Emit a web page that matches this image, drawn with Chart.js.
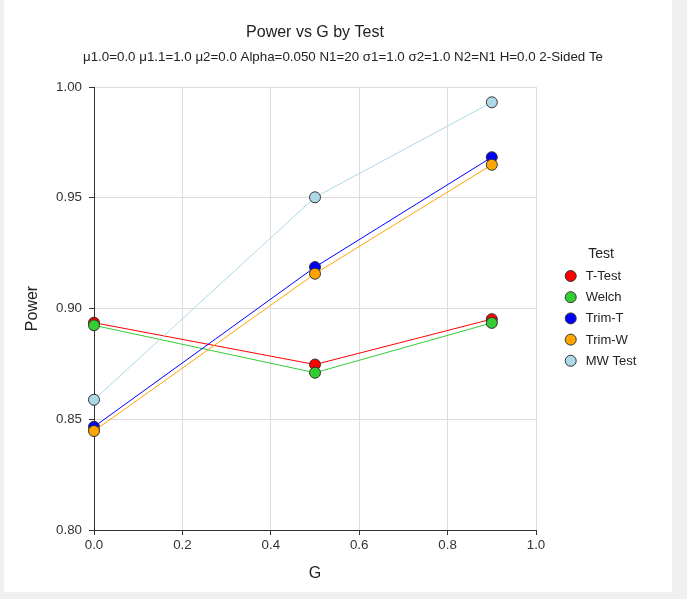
<!DOCTYPE html>
<html>
<head>
<meta charset="utf-8">
<script src="https://cdn.jsdelivr.net/npm/chart.js@4.4.1/dist/chart.umd.min.js"></script>
<style>
  body { margin: 0; background: #f0f0f0; }
  #wrap { position: absolute; left: 4px; top: 0; width: 668px; height: 592px; background: #fff; }
</style>
</head>
<body>
<div id="wrap"><canvas id="powerChart" width="668" height="592"></canvas></div>
<script>
const gValues = [0.0, 0.5, 0.9];
const testNames = ["T-Test", "Welch", "Trim-T", "Trim-W", "MW Test"];
const tTestPower = [0.8936, 0.8747, 0.8952];
const welchPower = [0.8924, 0.8710, 0.8935];
const trimTPower = [0.8466, 0.9187, 0.9683];
const trimWPower = [0.8447, 0.9157, 0.9649];
const mwPower = [0.8588, 0.9502, 0.9931];
const testColors = ["#ff0000", "#33cc33", "#0000ff", "#ffa500", "#add8e6"];

const chartTitle = "Power vs G by Test";
const chartSubtitle = "μ1.0=0.0 μ1.1=1.0 μ2=0.0 Alpha=0.050 N1=20 σ1=1.0 σ2=1.0 N2=N1 H=0.0 2-Sided Te";
const FONT = "'Liberation Sans', Arial, sans-serif";

const seriesList = [tTestPower, welchPower, trimTPower, trimWPower, mwPower];

function makeDataset(values, i) {
  return {
    label: testNames[i],
    data: values.map((v, k) => ({ x: gValues[k], y: v })),
    borderColor: testColors[i],
    backgroundColor: testColors[i],
    pointBackgroundColor: testColors[i],
    pointBorderColor: "#333",
    pointBorderWidth: 1,
    pointRadius: 5.5,
    borderWidth: 1,
    tension: 0,
    clip: false,
    order: seriesList.length - i,
  };
}

// title + subtitle at fixed spots above the plot
const headerPlugin = {
  id: "header",
  afterDraw(chart) {
    const ctx = chart.ctx;
    const area = chart.chartArea;
    ctx.save();
    ctx.fillStyle = "#222";
    ctx.textAlign = "center";
    ctx.textBaseline = "middle";
    ctx.font = "16px " + FONT;
    ctx.fillText(chartTitle, (area.left + area.right) / 2, 33);
    ctx.font = "13.33px " + FONT;
    ctx.fillText(chartSubtitle, 339, 57);
    ctx.restore();
  },
};

// legend block on the right, built from the datasets
const sideLegend = {
  id: "sideLegend",
  afterDraw(chart) {
    const ctx = chart.ctx;
    ctx.save();
    ctx.fillStyle = "#222";
    ctx.textBaseline = "middle";
    ctx.textAlign = "center";
    ctx.font = "14px " + FONT;
    ctx.fillText("Test", 597, 254);
    ctx.textAlign = "left";
    ctx.font = "13px " + FONT;
    chart.data.datasets.forEach((ds, i) => {
      const y = 276 + i * 21.2;
      ctx.beginPath();
      ctx.arc(566.7, y, 5.5, 0, Math.PI * 2);
      ctx.fillStyle = ds.backgroundColor;
      ctx.fill();
      ctx.lineWidth = 1;
      ctx.strokeStyle = "#333";
      ctx.stroke();
      ctx.fillStyle = "#222";
      ctx.fillText(ds.label, 581.7, y + 0.5);
    });
    ctx.restore();
  },
};

new Chart(document.getElementById("powerChart"), {
  type: "line",
  data: { datasets: seriesList.map(makeDataset) },
  options: {
    responsive: false,
    animation: false,
    layout: { padding: { top: 87, right: 136, bottom: 0, left: 0 } },
    plugins: {
      legend: { display: false },
      title: { display: false },
      tooltip: { enabled: false },
    },
    scales: {
      x: {
        type: "linear",
        min: 0,
        max: 1,
        afterFit: (s) => { s.height = 62; },
        ticks: {
          stepSize: 0.2,
          padding: 2,
          color: "#333",
          font: { family: FONT, size: 13.33 },
          callback: (v) => v.toFixed(1),
        },
        grid: { color: "#dcdcdc", tickColor: "#333", tickLength: 5 },
        border: { color: "#333", width: 1 },
        title: {
          display: true,
          text: "G",
          color: "#222",
          font: { family: FONT, size: 16 },
          padding: { top: 0, bottom: 9 },
        },
      },
      y: {
        min: 0.8,
        max: 1.0,
        afterFit: (s) => { s.width = 90; },
        ticks: {
          stepSize: 0.05,
          padding: 7,
          color: "#333",
          font: { family: FONT, size: 13.33 },
          callback: (v) => v.toFixed(2),
        },
        grid: { color: "#dcdcdc", tickColor: "#333", tickLength: 5 },
        border: { color: "#333", width: 1 },
        title: {
          display: true,
          text: "Power",
          color: "#222",
          font: { family: FONT, size: 16 },
          padding: { top: 19, bottom: 0 },
        },
      },
    },
  },
  plugins: [headerPlugin, sideLegend],
});
</script>
</body>
</html>
